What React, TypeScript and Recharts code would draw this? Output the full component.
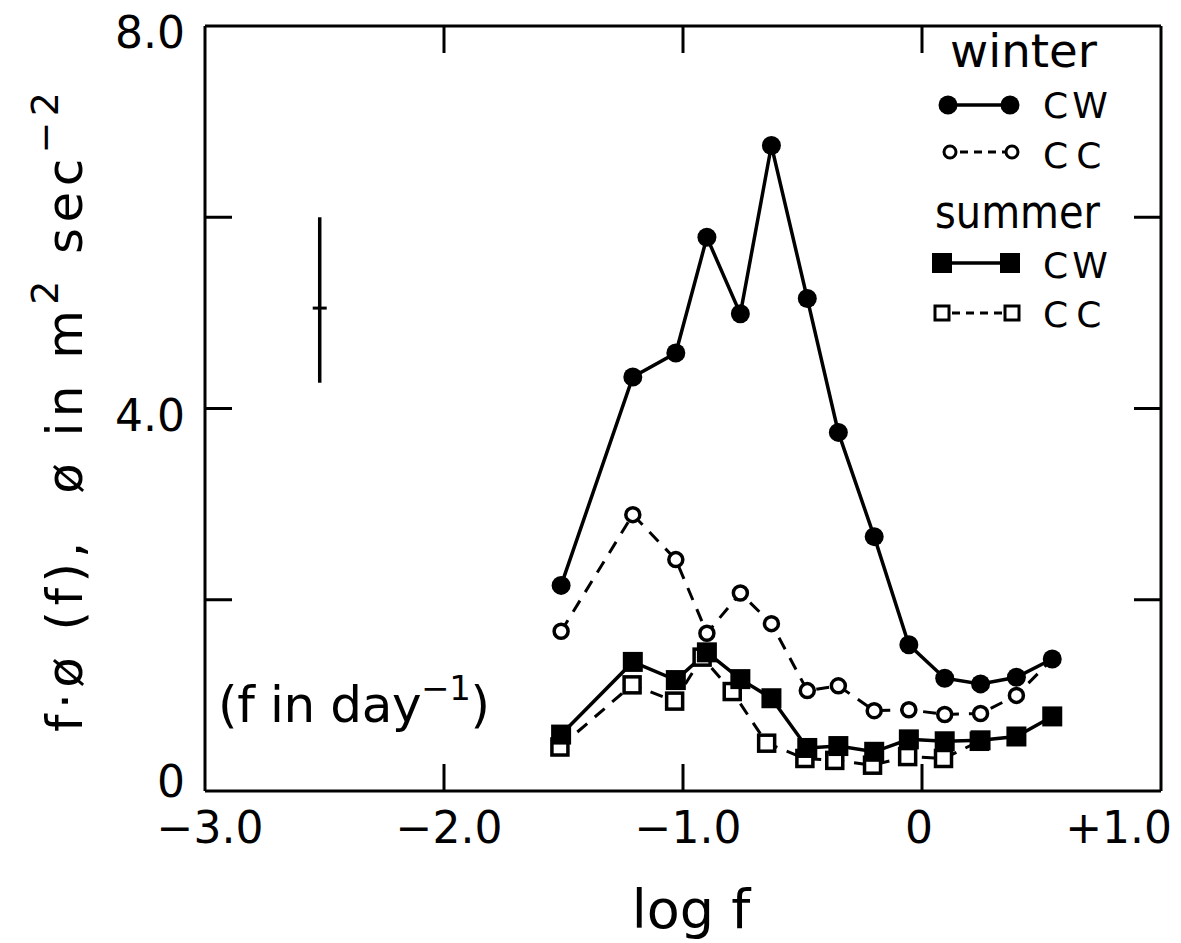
import {
  ComposedChart,
  Line,
  Scatter,
  ErrorBar,
  XAxis,
  YAxis,
  ReferenceLine,
  Customized,
} from "recharts";

const FONT = "DejaVu Sans";

// log f (f in day^-1) where the spectral estimates sit
const logF = [-1.51, -1.21, -1.03, -0.9, -0.76, -0.63, -0.48, -0.35, -0.2, -0.055, 0.095, 0.245, 0.395, 0.545];
const winterCW = [2.15, 4.33, 4.58, 5.79, 4.99, 6.75, 5.15, 3.75, 2.66, 1.53, 1.18, 1.12, 1.19, 1.38];
const winterCC = [1.67, 2.89, 2.42, 1.65, 2.07, 1.75, 1.05, 1.1, 0.84, 0.85, 0.8, 0.81, 1.0, 1.38];
const summerCW = [0.59, 1.35, 1.16, 1.45, 1.17, 0.97, 0.45, 0.47, 0.41, 0.54, 0.52, 0.53, 0.57, 0.78];
const logFSummerCC = [-1.515, -1.213, -1.035, -0.92, -0.794, -0.65, -0.49, -0.365, -0.207, -0.06, 0.09, 0.24];
const summerCC = [0.46, 1.11, 0.94, 1.4, 1.04, 0.5, 0.34, 0.32, 0.27, 0.36, 0.34, 0.52];

// representative error bar
const errLogF = [-2.52];
const errMid = [5.05];
const errLow = [0.78];
const errHigh = [0.95];

const xTicks = [-3, -2, -1, 0, 1];
const xTickLabels = ["\u22123.0", "\u22122.0", "\u22121.0", "0", "+1.0"];
const yTicks = [0, 2, 4, 6, 8];
const yTickLabels = ["0", "", "4.0", "", "8.0"];

const toRows = (xs: number[], ys: number[]) => xs.map((x, i) => ({ x, y: ys[i] }));
const winterCWData = toRows(logF, winterCW);
const winterCCData = toRows(logF, winterCC);
const summerCWData = toRows(logF, summerCW);
const summerCCData = toRows(logFSummerCC, summerCC);
const errData = errLogF.map((x, i) => ({ x, y: errMid[i], err: [errLow[i], errHigh[i]] }));

const PLOT_TOP = 26;
const PLOT_RIGHT = 1161;
const TICK_LEN = 27;

const filledCircle = (p: any) => (
  <circle key={`wcw-${p.index}`} cx={p.cx} cy={p.cy} r={9.5} fill="#000" />
);
const openCircle = (p: any) => (
  <circle key={`wcc-${p.index}`} cx={p.cx} cy={p.cy} r={7} fill="#fff" stroke="#000" strokeWidth={3.5} />
);
const filledSquare = (p: any) => (
  <rect key={`scw-${p.index}`} x={p.cx - 10} y={p.cy - 10} width={20} height={20} fill="#000" />
);
const openSquare = (p: any) => (
  <rect key={`scc-${p.index}`} x={p.cx - 8} y={p.cy - 8} width={16} height={16} fill="#fff" stroke="#000" strokeWidth={3.5} />
);

function XTick(props: any) {
  const { x, y, payload } = props;
  const v = payload.value;
  const i = xTicks.indexOf(v);
  const inner = v > -3 && v < 1;
  const last = i === xTicks.length - 1;
  return (
    <g>
      {inner && <line x1={x} x2={x} y1={y} y2={y - TICK_LEN} stroke="#000" strokeWidth={3} />}
      {inner && <line x1={x} x2={x} y1={PLOT_TOP} y2={PLOT_TOP + TICK_LEN} stroke="#000" strokeWidth={3} />}
      <text
        x={last ? x + 11 : x + (v === 0 ? -3 : 5)}
        y={y + 52}
        textAnchor={last ? "end" : "middle"}
        fontSize={44}
        fontFamily={FONT}
        fill="#000"
      >
        {xTickLabels[i]}
      </text>
    </g>
  );
}

function YTick(props: any) {
  const { x, y, payload } = props;
  const v = payload.value;
  const i = yTicks.indexOf(v);
  const inner = v > 0 && v < 8;
  return (
    <g>
      {inner && <line x1={x} x2={x + TICK_LEN} y1={y} y2={y} stroke="#000" strokeWidth={3} />}
      {inner && <line x1={PLOT_RIGHT} x2={PLOT_RIGHT - TICK_LEN} y1={y} y2={y} stroke="#000" strokeWidth={3} />}
      <text x={x - 20} y={y + (v === 0 ? 6 : 22)} textAnchor="end" fontSize={44} fontFamily={FONT} fill="#000">
        {yTickLabels[i]}
      </text>
    </g>
  );
}

function Annotations() {
  const t = { fontFamily: FONT, fill: "#000" };
  return (
    <g>
      {/* y axis title */}
      <text
        x={82}
        y={412}
        transform="rotate(-90, 82, 412)"
        textAnchor="middle"
        fontSize={50}
        textLength={640}
        lengthAdjust="spacing"
        style={{ whiteSpace: "pre" }}
        {...t}
      >
        {"f\u00b7\u00f8 (f),  \u00f8 in m"}
        <tspan dy={-24} fontSize={38}>2</tspan>
        <tspan dy={24} fontSize={50}>{" sec"}</tspan>
        <tspan dy={-24} fontSize={38}>{"\u22122"}</tspan>
      </text>
      {/* x axis title */}
      <text x={691} y={928} textAnchor="middle" fontSize={54} {...t}>
        log f
      </text>
      {/* units note */}
      <text x={218} y={722} fontSize={50} textLength={272} lengthAdjust="spacing" {...t}>
        (f in day
        <tspan dy={-22} fontSize={34}>{"\u22121"}</tspan>
        <tspan dy={22} fontSize={50}>)</tspan>
      </text>

      {/* legend */}
      <text x={950} y={67} fontSize={46} textLength={147} lengthAdjust="spacingAndGlyphs" {...t}>
        winter
      </text>
      <line x1={948} x2={1010} y1={105} y2={105} stroke="#000" strokeWidth={3.5} />
      <circle cx={948} cy={105} r={9.5} fill="#000" />
      <circle cx={1010} cy={105} r={9.5} fill="#000" />
      <text x={1043} y={118} fontSize={36} letterSpacing={4} {...t}>CW</text>

      <line x1={950} x2={1012} y1={152} y2={152} stroke="#000" strokeWidth={3} strokeDasharray="8 6" strokeDashoffset={-10} />
      <circle cx={950} cy={152} r={6} fill="#fff" stroke="#000" strokeWidth={3} />
      <circle cx={1012} cy={152} r={6} fill="#fff" stroke="#000" strokeWidth={3} />
      <text x={1043} y={168} fontSize={36} letterSpacing={8} {...t}>CC</text>

      <text x={935} y={228} fontSize={46} textLength={165} lengthAdjust="spacingAndGlyphs" {...t}>
        summer
      </text>
      <line x1={942} x2={1010} y1={263} y2={263} stroke="#000" strokeWidth={3.5} />
      <rect x={932} y={253} width={20} height={20} fill="#000" />
      <rect x={1000} y={253} width={20} height={20} fill="#000" />
      <text x={1043} y={278} fontSize={36} letterSpacing={4} {...t}>CW</text>

      <line x1={942} x2={1012} y1={313} y2={313} stroke="#000" strokeWidth={3} strokeDasharray="8 6" strokeDashoffset={-10} />
      <rect x={935} y={306} width={14} height={14} fill="#fff" stroke="#000" strokeWidth={3} />
      <rect x={1005} y={306} width={14} height={14} fill="#fff" stroke="#000" strokeWidth={3} />
      <text x={1043} y={327} fontSize={36} letterSpacing={8} {...t}>CC</text>
    </g>
  );
}

export default function App() {
  return (
    <div style={{ position: "absolute", left: 0, top: 0, width: 1181, height: 943, background: "#fff" }}>
      <ComposedChart width={1181} height={943} margin={{ top: 26, right: 20, bottom: 92, left: 85 }}>
        <XAxis
          dataKey="x"
          type="number"
          domain={[-3, 1]}
          ticks={xTicks}
          allowDataOverflow
          height={60}
          tickSize={0}
          tickMargin={0}
          tickLine={false}
          tick={<XTick />}
          axisLine={{ stroke: "#000", strokeWidth: 3 }}
        />
        <YAxis
          type="number"
          domain={[0, 8]}
          ticks={yTicks}
          allowDataOverflow
          width={120}
          tickSize={0}
          tickMargin={0}
          tickLine={false}
          tick={<YTick />}
          axisLine={{ stroke: "#000", strokeWidth: 3 }}
        />
        <ReferenceLine y={8} stroke="#000" strokeWidth={3} />
        <ReferenceLine x={1} stroke="#000" strokeWidth={3} />

        <Scatter data={errData} dataKey="y" isAnimationActive={false} shape={(p: any) => (
          <line x1={p.cx - 7} x2={p.cx + 7} y1={p.cy} y2={p.cy} stroke="#000" strokeWidth={3} />
        )}>
          <ErrorBar dataKey="err" direction="y" width={0} stroke="#000" strokeWidth={3.5} isAnimationActive={false} />
        </Scatter>

        <Line data={summerCCData} dataKey="y" stroke="#000" strokeWidth={3} strokeDasharray="13 10" dot={openSquare} activeDot={false} isAnimationActive={false} />
        <Line data={winterCCData} dataKey="y" stroke="#000" strokeWidth={3} strokeDasharray="13 10" dot={openCircle} activeDot={false} isAnimationActive={false} />
        <Line data={summerCWData} dataKey="y" stroke="#000" strokeWidth={3.5} dot={filledSquare} activeDot={false} isAnimationActive={false} />
        <Line data={winterCWData} dataKey="y" stroke="#000" strokeWidth={3.5} dot={filledCircle} activeDot={false} isAnimationActive={false} />

        <Customized component={Annotations} />
      </ComposedChart>
    </div>
  );
}
